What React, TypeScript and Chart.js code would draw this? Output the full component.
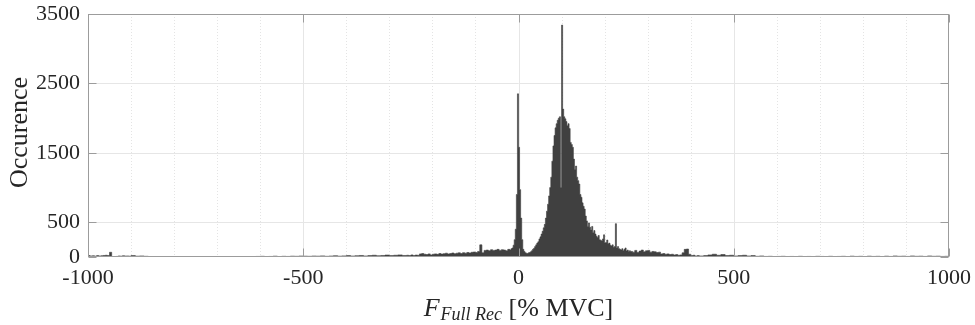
import React, { useEffect, useRef } from 'react';
import { Chart, registerables } from 'chart.js';

Chart.register(...registerables);

const FONT = '"Liberation Serif", "DejaVu Serif", serif';
const TEXT = '#262626';

// Histogram bins (start value, bin width, occurrences per bin)
const farLeftStart = -1000;
const farLeftBin = 5;
const farLeftCounts = [
  20, 15, 18, 12, 20, 15, 18, 22, 25, 20,
  68, 4, 5, 8, 15, 12, 18, 14, 15, 12,
];

const leftTailStart = -900;
const leftTailBin = 10;
const leftTailCounts = [
  20, 12, 15, 10, 5, 3, 2, 2, 3, 2,
  2, 3, 2, 2, 3, 2, 3, 2, 4, 3,
  2, 4, 3, 5, 4, 6, 5, 7, 5, 8,
  10, 6, 8, 12, 6, 10, 8, 12, 10, 14,
  12, 10, 14, 12, 16, 10, 14, 18, 12, 16,
  20, 14, 18, 22, 15, 20, 25, 18, 22, 28,
  20, 25, 30, 22,
];

const coreAStart = -260;
const coreABin = 5;
const coreACounts = [
  25, 20, 30, 22, 28, 25, 45, 50, 40, 35,
  45, 30, 40, 45, 38, 50, 42, 48, 55, 45,
  50, 58, 48, 55, 60, 50, 62, 55, 65, 58,
  68, 72, 65, 80, 175, 60, 95, 100, 90, 105,
  95, 100, 110, 95, 105, 100, 90, 110,
];

const coreBStart = -20;
const coreBBin = 2.5;
const coreBCounts = [
  100, 120, 130, 170, 250, 400, 900, 2350,
  1580, 970, 560, 250, 110, 80, 60, 55, 50, 60,
  65, 75, 90, 110, 125, 150, 175, 200, 220, 260,
  290, 330, 370, 420, 470, 560, 660, 760, 880, 1000,
  1150, 1380, 1600, 1750, 1860, 1920, 1970, 2000, 2020, 1000,
  3340, 2130, 2020, 1990, 1950, 1890, 1920, 1850, 1650, 1620,
  1580, 1410, 1260, 1310, 1150, 1100, 1050, 900, 860, 780,
  730, 690, 590, 520, 440, 490, 430, 390, 440, 350,
  380, 330, 300, 280, 310, 250, 240, 230, 260, 320,
  200, 210, 245, 190, 200, 170, 160, 175, 140, 150,
  480, 130, 150, 120, 110, 100, 120, 90, 110, 130,
  85, 100, 80, 90,
];

const coreCStart = 260;
const coreCBin = 5;
const coreCCounts = [
  80, 70, 95, 65, 85, 100, 75, 90, 95, 70,
  80, 75, 65, 70, 45, 50, 40, 45, 35, 40,
  30, 35, 25, 30, 60, 110, 115, 40, 20, 25,
  15, 20,
];

const rightTailStart = 420;
const rightTailBin = 10;
const rightTailCounts = [
  15, 20, 30, 40, 25, 35, 20, 25, 15, 20,
  25, 15, 20, 10, 15, 8, 10, 6, 8, 10,
  6, 8, 5, 10, 6, 8, 5, 10, 8, 6,
  10, 5, 8, 10, 6, 12, 8, 10, 6, 12,
  8, 10, 6, 12, 8, 15, 10, 12, 8, 15,
  10, 12, 8, 15, 10, 12, 8, 10,
];
const rangeEnd = 1000;

const xTicks = [-1000, -500, 0, 500, 1000];
const yTicks = [0, 500, 1500, 2500, 3500];
const xMinorGrid = [-900, -800, -700, -600, -400, -300, -200, -100, 100, 200, 300, 400, 600, 700, 800, 900];
const xMajorGrid = [-500, 0, 500];
const yGrid = [500, 1500, 2500];

function buildPoints() {
  const segs: [number, number, number[]][] = [
    [farLeftStart, farLeftBin, farLeftCounts],
    [leftTailStart, leftTailBin, leftTailCounts],
    [coreAStart, coreABin, coreACounts],
    [coreBStart, coreBBin, coreBCounts],
    [coreCStart, coreCBin, coreCCounts],
    [rightTailStart, rightTailBin, rightTailCounts],
  ];
  const pts: { x: number; y: number }[] = [];
  for (const [s, w, c] of segs) c.forEach((v, i) => pts.push({ x: s + i * w, y: v }));
  pts.sort((a, b) => a.x - b.x);
  pts.push({ x: rangeEnd, y: pts[pts.length - 1].y });
  return pts;
}

const decor = {
  id: 'decor',
  beforeDraw(chart: any) {
    const { ctx, width, height } = chart;
    ctx.save();
    ctx.fillStyle = '#ffffff';
    ctx.fillRect(0, 0, width, height);
    ctx.restore();
  },
  beforeDatasetsDraw(chart: any) {
    const { ctx, chartArea: a, scales } = chart;
    const x = scales.x, y = scales.y;
    ctx.save();
    ctx.lineWidth = 1;
    ctx.strokeStyle = '#e4e4e4';
    ctx.setLineDash([1, 2]);
    for (const v of xMinorGrid) {
      const px = Math.round(x.getPixelForValue(v)) + 0.5;
      ctx.beginPath(); ctx.moveTo(px, a.top); ctx.lineTo(px, a.bottom); ctx.stroke();
    }
    ctx.setLineDash([]);
    ctx.strokeStyle = '#e6e6e6';
    for (const v of xMajorGrid) {
      const px = Math.round(x.getPixelForValue(v)) + 0.5;
      ctx.beginPath(); ctx.moveTo(px, a.top); ctx.lineTo(px, a.bottom); ctx.stroke();
    }
    for (const v of yGrid) {
      const py = Math.round(y.getPixelForValue(v)) + 0.5;
      ctx.beginPath(); ctx.moveTo(a.left, py); ctx.lineTo(a.right, py); ctx.stroke();
    }
    ctx.restore();
  },
  afterDatasetsDraw(chart: any) {
    const { ctx, chartArea: a, scales } = chart;
    const x = scales.x, y = scales.y;
    ctx.save();
    ctx.strokeStyle = '#9c9c9c';
    ctx.lineWidth = 1;
    const L = Math.round(a.left) + 0.5, R = Math.round(a.right) - 0.5;
    const T = Math.round(a.top) + 0.5, B = Math.round(a.bottom) - 0.5;
    ctx.strokeRect(L, T, R - L, B - T);
    const tl = 8;
    for (const v of xTicks) {
      const px = Math.round(x.getPixelForValue(v)) + 0.5;
      ctx.beginPath();
      ctx.moveTo(px, B); ctx.lineTo(px, B - tl);
      ctx.moveTo(px, T); ctx.lineTo(px, T + tl);
      ctx.stroke();
    }
    for (const v of yTicks) {
      const py = Math.round(y.getPixelForValue(v)) + 0.5;
      ctx.beginPath();
      ctx.moveTo(L, py); ctx.lineTo(L + tl, py);
      ctx.moveTo(R, py); ctx.lineTo(R - tl, py);
      ctx.stroke();
    }
    // y-axis title
    ctx.fillStyle = TEXT;
    ctx.save();
    ctx.translate(20, (a.top + a.bottom) / 2 - 3);
    ctx.rotate(-Math.PI / 2);
    ctx.font = `26px ${FONT}`;
    ctx.textAlign = 'center';
    ctx.textBaseline = 'middle';
    ctx.fillText('Occurence', 0, 0);
    ctx.restore();
    // x-axis title: F_{Full Rec} [% MVC]
    const main = `italic 26px ${FONT}`;
    const sub = `italic 18px ${FONT}`;
    const reg = `26px ${FONT}`;
    const p1 = 'F', p2 = 'Full Rec', p3 = ' [% MVC]';
    ctx.font = main; const w1 = ctx.measureText(p1).width;
    ctx.font = sub; const w2 = ctx.measureText(p2).width;
    ctx.font = reg; const w3 = ctx.measureText(p3).width;
    const total = w1 + 1 + w2 + w3;
    let cx = (a.left + a.right) / 2 - total / 2;
    const base = 316;
    ctx.textAlign = 'left';
    ctx.textBaseline = 'alphabetic';
    ctx.font = main; ctx.fillText(p1, cx, base); cx += w1 + 1;
    ctx.font = sub; ctx.fillText(p2, cx, base + 4); cx += w2;
    ctx.font = reg; ctx.fillText(p3, cx, base);
    ctx.restore();
  },
};

export default function App() {
  const ref = useRef<HTMLCanvasElement | null>(null);
  useEffect(() => {
    if (!ref.current) return;
    const chart = new Chart(ref.current, {
      type: 'line',
      data: {
        datasets: [
          {
            data: buildPoints(),
            stepped: 'before',
            fill: 'origin',
            backgroundColor: '#404040',
            borderColor: '#404040',
            borderWidth: 0.6,
            pointRadius: 0,
          } as any,
        ],
      },
      options: {
        animation: false,
        responsive: false,
        devicePixelRatio: 1,
        layout: { padding: { top: 14, right: 26, left: 0, bottom: 0 } },
        plugins: { legend: { display: false }, tooltip: { enabled: false } },
        scales: {
          x: {
            type: 'linear',
            min: -1000,
            max: 1000,
            grid: { display: false },
            border: { display: false },
            afterBuildTicks: (s: any) => { s.ticks = xTicks.map((v) => ({ value: v })); },
            afterFit: (s: any) => { s.height = 68; },
            ticks: {
              autoSkip: false,
              maxRotation: 0,
              padding: 0,
              color: TEXT,
              font: { family: FONT, size: 22 },
              callback: (v: any) => String(v),
            },
          },
          y: {
            type: 'linear',
            min: 0,
            max: 3500,
            grid: { display: false },
            border: { display: false },
            afterBuildTicks: (s: any) => { s.ticks = yTicks.map((v) => ({ value: v })); },
            afterFit: (s: any) => { s.width = 88; },
            ticks: {
              padding: 0,
              color: TEXT,
              font: { family: FONT, size: 22 },
              callback: (v: any) => String(v),
            },
          },
        },
      } as any,
      plugins: [decor],
    });
    return () => chart.destroy();
  }, []);
  return (
    <div style={{ position: 'fixed', left: 0, top: 0, width: 975, height: 325, background: '#fff' }}>
      <canvas ref={ref} width={975} height={325} />
    </div>
  );
}
